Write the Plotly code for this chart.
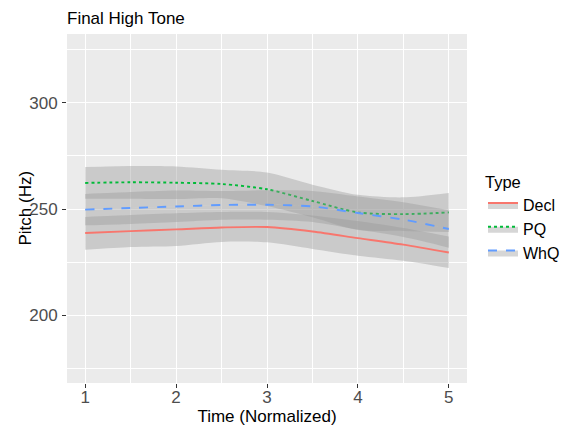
import plotly.graph_objects as go

time_pts = [1, 1.5, 2, 2.5, 3, 3.5, 4, 4.5, 5]

decl_fit = [238.7, 239.6, 240.4, 241.3, 241.5, 239.4, 236.3, 233.2, 229.5]
decl_lo = [230.8, 232.1, 232.6, 234.5, 234.3, 231.2, 228.0, 225.6, 222.2]
decl_hi = [246.3, 247.2, 248.0, 248.6, 248.6, 247.0, 244.3, 241.0, 237.0]

pq_fit = [262.3, 262.6, 262.4, 261.8, 259.3, 253.8, 248.4, 247.6, 248.4]
pq_lo = [254.8, 254.9, 254.7, 255.1, 251.4, 246.1, 240.1, 239.7, 239.2]
pq_hi = [269.8, 270.3, 270.1, 268.5, 267.2, 261.5, 256.7, 255.5, 257.6]

whq_fit = [249.7, 250.5, 251.2, 251.9, 252.0, 251.2, 248.1, 245.0, 240.6]
whq_lo = [242.3, 243.0, 243.9, 245.0, 245.0, 243.9, 240.3, 236.8, 231.8]
whq_hi = [257.1, 258.0, 258.7, 258.5, 258.8, 258.5, 255.9, 253.2, 249.4]

series = [
    ("Decl", decl_fit, decl_lo, decl_hi, "#F8766D", "solid"),
    ("PQ", pq_fit, pq_lo, pq_hi, "#00BA38", "dot"),
    ("WhQ", whq_fit, whq_lo, whq_hi, "#619CFF", "dash"),
]

x_ticks = [1, 2, 3, 4, 5]
y_ticks = [200, 250, 300]

FONT = "Liberation Sans, Arial, sans-serif"
ribbon = "rgba(153,153,153,0.4)"

# page body has an 8px margin, so the figure is sized to fit the 569x428 window
W, H = 561, 420

fig = go.Figure()
for name, fit, lo, hi, color, dash in series:
    fig.add_trace(go.Scatter(x=time_pts, y=lo, mode="lines", line=dict(width=0, shape="spline", smoothing=0.8),
                             showlegend=False, hoverinfo="skip"))
    fig.add_trace(go.Scatter(x=time_pts, y=fit, mode="lines", name=name, fill="tonexty", fillcolor=ribbon,
                             line=dict(color=color, width=1.9, dash=dash, shape="spline", smoothing=0.8)))
    fig.add_trace(go.Scatter(x=time_pts, y=hi, mode="lines", fill="tonexty", fillcolor=ribbon,
                             line=dict(width=0, shape="spline", smoothing=0.8),
                             showlegend=False, hoverinfo="skip"))

fig.update_layout(
    width=W, height=H,
    margin=dict(l=59, r=102, t=26, b=45, autoexpand=False),
    paper_bgcolor="white", plot_bgcolor="#EBEBEB",
    font=dict(family=FONT, size=17, color="black"),
    title=dict(text="Final High Tone", x=0, xref="paper", xanchor="left",
               y=1 - 10 / H, yref="container", yanchor="middle",
               font=dict(family=FONT, size=17, color="black")),
    showlegend=True,
    legend=dict(title=dict(text="Type", font=dict(size=16.5, color="black")),
                font=dict(size=16, color="black"), traceorder="normal",
                x=1.04, xanchor="left", y=0.62, yanchor="top",
                bgcolor="white", borderwidth=0, tracegroupgap=0, itemwidth=30),
    hovermode=False,
    annotations=[dict(text="Pitch (Hz)", xref="paper", yref="paper", x=-42 / 400, y=0.5,
                      xanchor="center", yanchor="middle", textangle=-90, showarrow=False,
                      font=dict(family=FONT, size=17, color="black"))],
)
fig.update_xaxes(range=[0.8, 5.2], tickvals=x_ticks, ticks="outside", ticklen=4, tickcolor="#333333",
                 tickfont=dict(size=17, color="#4D4D4D"), ticklabelstandoff=-5,
                 showgrid=True, gridcolor="white", gridwidth=1.1,
                 minor=dict(dtick=0.5, tick0=0.5, showgrid=True, gridcolor="white", gridwidth=0.5, ticks=""),
                 zeroline=False, showline=False, automargin=False,
                 title=dict(text="Time (Normalized)", font=dict(size=17, color="black"), standoff=2))
fig.update_yaxes(range=[168, 332.5], tickvals=y_ticks, ticks="outside", ticklen=4, tickcolor="#333333",
                 tickfont=dict(size=17, color="#4D4D4D"), ticklabelstandoff=1,
                 showgrid=True, gridcolor="white", gridwidth=1.1,
                 minor=dict(dtick=25, tick0=175, showgrid=True, gridcolor="white", gridwidth=0.5, ticks=""),
                 zeroline=False, showline=False, automargin=False)

fig.write_html("out.html")
